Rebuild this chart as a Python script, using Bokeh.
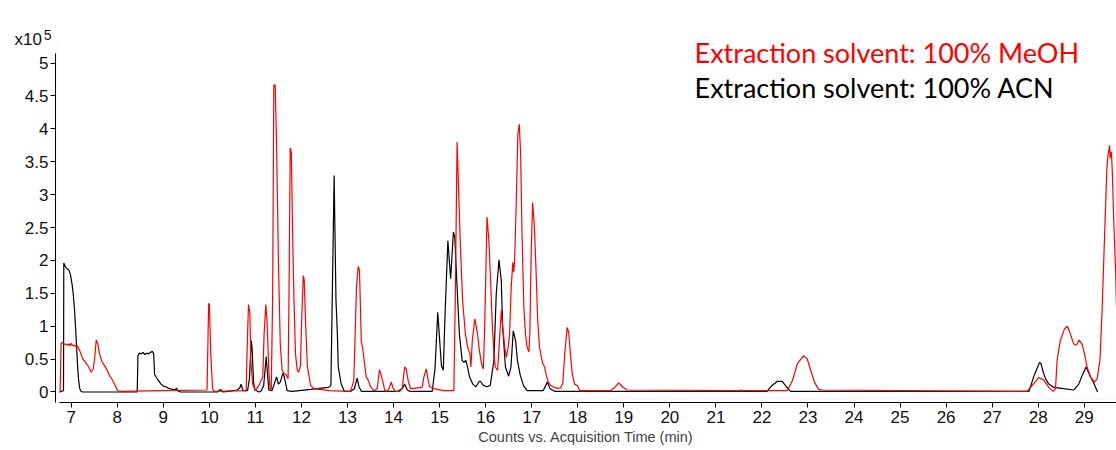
from bokeh.plotting import figure
from bokeh.models import FixedTicker, BoxAnnotation, Label
from bokeh.embed import file_html
from bokeh.resources import INLINE

# ---------------- data (x = acquisition time, min ; y = counts x10^5) --------------
acn_time = [6.746, 6.833, 6.839, 6.876, 6.913, 6.948, 6.985, 7.022, 7.043, 7.072, 7.093, 7.115,
            7.137, 7.159, 7.180, 7.202, 7.245, 8.430, 8.433, 8.45, 8.48, 8.52, 8.56, 8.60, 8.64,
            8.68, 8.72, 8.76, 8.79, 8.80, 8.81, 8.85, 8.90, 8.95, 9.00, 9.05, 9.10, 9.15, 9.20,
            9.25, 9.29, 9.31, 9.37, 10.18, 10.24, 10.30, 10.40, 10.60, 10.66, 10.69, 10.73,
            10.83, 10.87, 10.91, 10.93, 10.96, 10.99, 11.08, 11.13, 11.18, 11.235, 11.26, 11.29,
            11.36, 11.40, 11.46, 11.50, 11.54, 11.60, 11.63, 11.69, 11.80, 12.20, 12.59, 12.64,
            12.71, 12.75, 12.78, 12.80, 12.86, 12.93, 13.07, 13.15, 13.21, 13.25, 13.30, 14.10,
            14.20, 14.24, 14.30, 14.35, 14.84, 14.90, 14.96, 15.00, 15.04, 15.08, 15.12, 15.18,
            15.24, 15.30, 15.33, 15.38, 15.43, 15.49, 15.53, 15.57, 15.60, 15.65, 15.72, 15.79,
            15.86, 15.89, 15.95, 16.03, 16.10, 16.18, 16.23, 16.29, 16.34, 16.37, 16.43, 16.50,
            16.55, 16.60, 16.65, 16.69, 16.75, 16.82, 16.90, 17.25, 17.34, 17.40, 17.50, 22.11,
            22.22, 22.33, 22.44, 22.53, 22.62, 27.80, 27.90, 27.97, 28.03, 28.06, 28.11, 28.16,
            28.23, 28.34, 28.55, 28.77, 28.88, 28.96, 29.04, 29.13, 29.21, 29.29]
acn_counts = [0.0, 0.02, 1.96, 1.90, 1.87, 1.86, 1.78, 1.62, 1.50, 1.25, 1.00, 0.72,
              0.42, 0.20, 0.07, 0.02, 0.0, 0.0, 0.0, 0.55, 0.59, 0.58, 0.60, 0.57, 0.59,
              0.58, 0.60, 0.62, 0.58, 0.45, 0.27, 0.22, 0.17, 0.12, 0.09, 0.08, 0.06, 0.05, 0.04,
              0.03, 0.06, 0.02, 0.0, 0.0, 0.04, 0.0, 0.01, 0.03, 0.06, 0.12, 0.02,
              0.02, 0.20, 0.78, 0.65, 0.15, 0.03, 0.0, 0.02, 0.10, 0.54, 0.30, 0.03,
              0.02, 0.10, 0.23, 0.12, 0.15, 0.29, 0.22, 0.02, 0.01, 0.04, 0.07, 0.10,
              3.29, 1.39, 0.89, 0.38, 0.13, 0.01, 0.01, 0.05, 0.21, 0.08, 0.01, 0.01,
              0.06, 0.12, 0.03, 0.01, 0.01, 0.35, 1.21, 0.80, 0.40, 0.33, 1.20, 2.30,
              1.72, 2.43, 2.35, 1.59, 0.88, 0.48, 0.45, 0.48, 0.40, 0.23, 0.12, 0.08,
              0.16, 0.16, 0.10, 0.08, 0.10, 0.48, 1.49, 2.01, 1.69, 0.99, 0.38, 0.24,
              0.38, 0.93, 0.78, 0.48, 0.26, 0.10, 0.02, 0.02, 0.15, 0.05, 0.01, 0.01,
              0.10, 0.16, 0.16, 0.08, 0.01, 0.01, 0.23, 0.35, 0.45, 0.43, 0.30, 0.20,
              0.12, 0.07, 0.05, 0.03, 0.12, 0.26, 0.38, 0.24, 0.13, 0.0]

meoh_time = [6.746, 6.76, 6.78, 6.81, 6.85, 6.88, 6.92, 6.95, 6.98, 7.00, 7.02, 7.05, 7.08,
             7.11, 7.137, 7.202, 7.252, 7.311, 7.382, 7.434, 7.478, 7.512, 7.543, 7.578,
             7.615, 7.673, 7.723, 7.782, 7.832, 7.890, 7.947, 7.999, 8.034, 9.00, 9.95,
             9.985, 10.00, 10.03, 10.07, 10.10, 10.80, 10.82, 10.85, 10.88, 10.90, 10.94,
             11.00, 11.09, 11.16, 11.19, 11.226, 11.255, 11.29, 11.32, 11.345, 11.375, 11.40,
             11.43, 11.46, 11.50, 11.54, 11.58, 11.62, 11.67, 11.71, 11.73, 11.756, 11.78,
             11.80, 11.834, 11.871, 11.908, 11.94, 11.98, 12.00, 12.04, 12.06, 12.09, 12.13,
             12.20, 12.27, 12.60, 13.065, 13.137, 13.195, 13.232, 13.26, 13.30, 13.33, 13.37,
             13.406, 13.45, 13.50, 13.57, 13.645, 13.695, 13.73, 13.77, 13.81, 13.86, 13.905,
             13.95, 13.99, 14.04, 14.135, 14.19, 14.24, 14.275, 14.32, 14.37, 14.48, 14.62,
             14.66, 14.71, 14.74, 14.78, 14.87, 15.09, 15.31, 15.34, 15.38, 15.42, 15.45,
             15.50, 15.56, 15.61, 15.66, 15.68, 15.71, 15.765, 15.82, 15.865, 15.91, 15.95,
             15.98, 16.03, 16.07, 16.105, 16.14, 16.18, 16.21, 16.26, 16.30, 16.34, 16.37,
             16.415, 16.45, 16.49, 16.52, 16.555, 16.59, 16.61, 16.63, 16.66, 16.70, 16.73,
             16.76, 16.79, 16.83, 16.865, 16.90, 16.94, 16.96, 16.99, 17.02, 17.06, 17.10,
             17.13, 17.17, 17.21, 17.24, 17.28, 17.315, 17.36, 17.41, 17.52, 17.625, 17.675,
             17.72, 17.77, 17.805, 17.84, 17.88, 17.93, 17.99, 18.045, 18.71, 18.82, 18.89,
             18.97, 19.07, 21.50, 21.55, 21.60, 22.55, 22.66, 22.77, 22.90, 22.98, 23.05,
             23.14, 23.23, 23.31, 27.76, 27.87, 28.01, 28.12, 28.23, 28.325, 28.375, 28.41,
             28.48, 28.57, 28.63, 28.70, 28.77, 28.83, 28.89, 28.955, 29.005, 29.06, 29.135,
             29.22, 29.28, 29.34, 29.39, 29.44, 29.49, 29.51, 29.55, 29.56, 29.59, 29.61,
             29.64, 29.68, 29.70, 29.72]
meoh_counts = [0.0, 0.0, 0.74, 0.75, 0.72, 0.73, 0.71, 0.73, 0.70, 0.74, 0.72, 0.70, 0.71,
               0.68, 0.70, 0.60, 0.50, 0.45, 0.38, 0.30, 0.35, 0.53, 0.79, 0.73,
               0.58, 0.45, 0.40, 0.33, 0.25, 0.19, 0.11, 0.03, 0.01, 0.02, 0.03,
               1.35, 1.33, 0.60, 0.05, 0.01, 0.02, 0.63, 1.33, 1.20, 0.48, 0.12,
               0.02, 0.12, 0.23, 0.90, 1.33, 1.05, 0.35, 0.03, 0.05, 1.49, 4.67,
               4.66, 3.77, 2.00, 0.73, 0.33, 0.28, 0.26, 0.20, 1.49, 3.71, 3.65,
               2.76, 1.49, 0.58, 0.33, 0.30, 0.40, 1.00, 1.77, 1.70, 1.05, 0.38,
               0.10, 0.05, 0.02, 0.01, 0.17, 1.59, 1.91, 1.85, 0.76, 0.66, 0.43,
               0.23, 0.18, 0.08, 0.02, 0.05, 0.34, 0.26, 0.15, 0.02, 0.01, 0.06,
               0.15, 0.06, 0.01, 0.01, 0.06, 0.38, 0.35, 0.16, 0.05, 0.06, 0.07,
               0.23, 0.35, 0.23, 0.08, 0.05, 0.02, 0.02, 1.39, 3.80, 2.91, 2.25,
               1.39, 0.88, 0.68, 0.58, 0.38, 0.78, 1.11, 0.90, 0.63, 0.43, 0.35,
               1.00, 2.66, 2.30, 1.74, 1.09, 0.58, 0.38, 0.33, 0.78, 1.24, 0.99,
               0.68, 0.53, 0.68, 0.88, 1.59, 1.97, 1.82, 2.00, 2.76, 3.92, 4.07,
               3.62, 2.40, 1.29, 0.88, 0.68, 0.61, 0.90, 2.15, 2.88, 2.50, 1.74,
               1.09, 0.68, 0.53, 0.43, 0.38, 0.26, 0.15, 0.10, 0.06, 0.06, 0.13,
               0.60, 0.98, 0.90, 0.58, 0.28, 0.12, 0.10, 0.02, 0.02, 0.08, 0.14,
               0.08, 0.03, 0.02, 0.03, 0.02, 0.02, 0.17, 0.43, 0.55, 0.51, 0.35,
               0.15, 0.04, 0.03, 0.01, 0.10, 0.22, 0.18, 0.07, 0.01, 0.05, 0.48,
               0.78, 0.96, 1.00, 0.88, 0.73, 0.71, 0.79, 0.72, 0.58, 0.38, 0.23,
               0.15, 0.20, 0.48, 1.29, 2.35, 3.37, 3.57, 3.75, 3.55, 3.65, 3.32,
               2.61, 1.85, 1.29, 1.00]

x_ticks = list(range(7, 30))
y_ticks = [0, 0.5, 1, 1.5, 2, 2.5, 3, 3.5, 4, 4.5, 5]
y_tick_labels = ["0", "0.5", "1", "1.5", "2", "2.5", "3", "3.5", "4", "4.5", "5"]
series_names = ["Extraction solvent: 100% MeOH", "Extraction solvent: 100% ACN"]
x_title = "Counts vs. Acquisition Time (min)"
multiplier = ["x10", "5"]

# ---------------- figure -------------------------------------------------------------
FONT = "'Liberation Sans', Arial, sans-serif"

p = figure(width=1116, height=450, x_range=(6.659, 29.70), y_range=(-0.1596, 5.342),
           output_backend="svg", toolbar_location=None,
           min_border_left=55, min_border_right=0, min_border_top=40, min_border_bottom=48)
p.outline_line_color = None
p.xgrid.visible = False
p.ygrid.visible = False
p.background_fill_color = "white"
p.border_fill_color = "white"

# light gray frame box (its top edge lies above the plotting frame)
p.add_layout(BoxAnnotation(left=6.7025, right=31, bottom=-0.099, top=6.0,
                           fill_color=None, line_color="#e6e6e6", line_width=2))

p.line(acn_time, acn_counts, line_color="black", line_width=1.2)
p.line(meoh_time, meoh_counts, line_color="#ff0000", line_width=1.2)

# axes
for ax in (p.xaxis, p.yaxis):
    ax.axis_line_color = "black"
    ax.axis_line_width = 1
    ax.major_tick_line_color = "black"
    ax.major_tick_out = 5
    ax.major_tick_in = 0
    ax.minor_tick_line_color = None
    ax.major_label_text_font = FONT
    ax.major_label_text_font_size = "17px"
    ax.major_label_text_color = "#111111"

p.xaxis.ticker = FixedTicker(ticks=x_ticks)
p.xaxis.bounds = (6.75, 31)
p.xaxis.major_label_standoff = 3
p.xaxis.axis_label = x_title
p.xaxis.axis_label_text_font = FONT
p.xaxis.axis_label_text_font_size = "14.5px"
p.xaxis.axis_label_text_font_style = "normal"
p.xaxis.axis_label_standoff = 3

p.yaxis.ticker = FixedTicker(ticks=y_ticks)
p.yaxis.major_label_overrides = {v: s for v, s in zip(y_ticks, y_tick_labels)}
p.yaxis.bounds = (-0.17, 5.14)
p.yaxis.major_label_standoff = 2

# x10^5 multiplier (top side panel, data coordinates)
p.add_layout(Label(x=5.769, y=5.35, text=multiplier[0], text_font=FONT,
                   text_font_size="17px", text_color="#111111", text_baseline="middle"), "above")
p.add_layout(Label(x=6.405, y=5.429, text=multiplier[1], text_font=FONT,
                   text_font_size="14px", text_color="#111111", text_baseline="middle"), "above")

# series labels
p.add_layout(Label(x=20.537, y=5.167, text=series_names[0], text_font="Lato",
                   text_font_size="27px", text_color="#ff0000", text_baseline="middle"))
p.add_layout(Label(x=20.537, y=4.628, text=series_names[1], text_font="Lato",
                   text_font_size="27px", text_color="black", text_baseline="middle"))

open("out.html", "w").write(file_html(p, INLINE))
